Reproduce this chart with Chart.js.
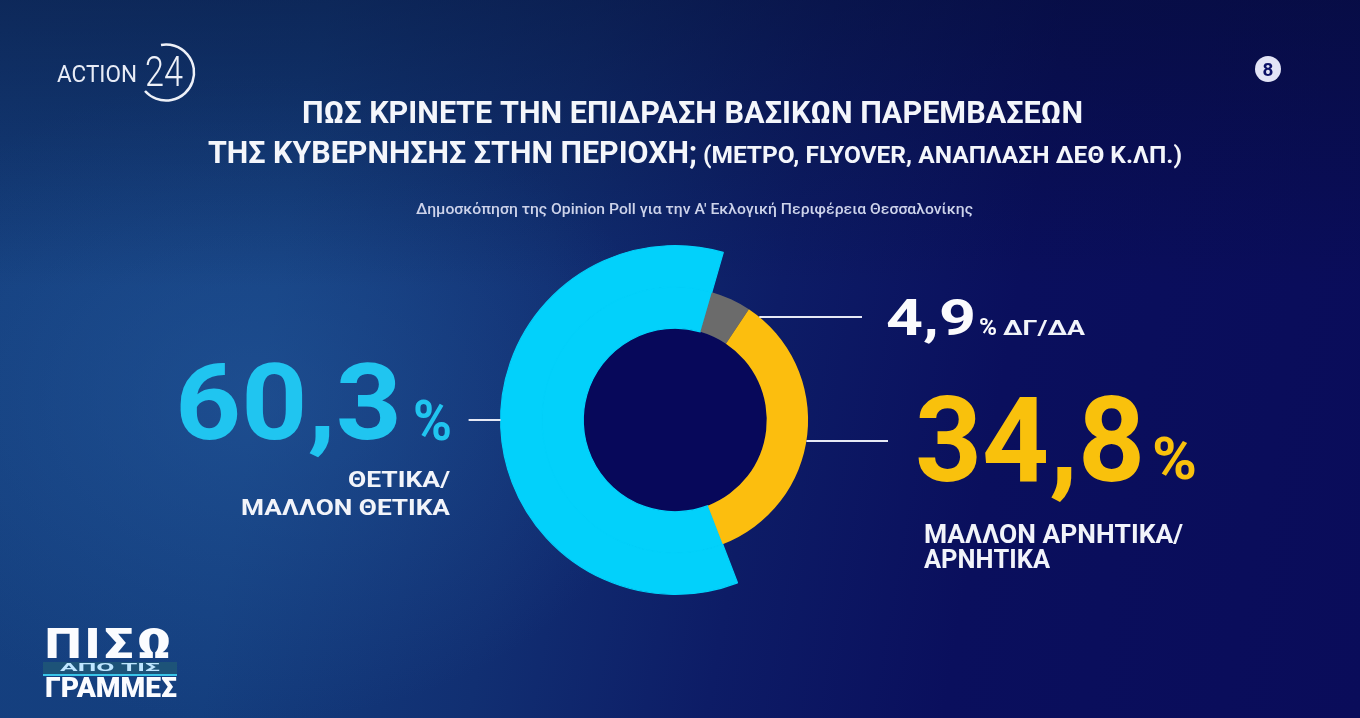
<!DOCTYPE html>
<html>
<head>
<meta charset="utf-8">
<script src="https://cdn.jsdelivr.net/npm/chart.js@4.4.1/dist/chart.umd.min.js"></script>
<style>
  html, body { margin:0; padding:0; width:1360px; height:718px; overflow:hidden; }
  body {
    position:relative;
    background:
      linear-gradient(180deg, rgba(4,12,45,0.45) 0%, rgba(4,12,45,0) 40%),
      radial-gradient(ellipse 560px 430px at 250px 400px, rgba(38,92,160,0.5), rgba(38,92,160,0) 75%),
      linear-gradient(100deg, #15407f 0%, #143e7e 22%, #112f72 40%, #0d1c66 56%, #0a0f5d 72%, #0a0c5a 100%);
    font-family: "Roboto", sans-serif;
    color:#fff;
  }
  #wrap { position:absolute; left:0; top:0; width:1360px; height:718px; }
  .t { position:absolute; white-space:nowrap; line-height:1; font-family:"Roboto",sans-serif; transform-origin:0 0; }
  .b { font-weight:700; }
</style>
</head>
<body>
<div id="wrap"><canvas id="c" width="1360" height="718"></canvas></div>

<!-- titles -->
<div class="t b fit" data-w="781" style="left:302px;top:97px;font-size:31px;color:#f4f6fb;">ΠΩΣ ΚΡΙΝΕΤΕ ΤΗΝ ΕΠΙΔΡΑΣΗ ΒΑΣΙΚΩΝ ΠΑΡΕΜΒΑΣΕΩΝ</div>
<div class="t b fit" data-w="489" style="left:208px;top:137px;font-size:31px;color:#f4f6fb;">ΤΗΣ ΚΥΒΕΡΝΗΣΗΣ ΣΤΗΝ ΠΕΡΙΟΧΗ;</div>
<div class="t b fit" data-w="479" style="left:703px;top:143px;font-size:24px;color:#f4f6fb;">(ΜΕΤΡΟ, FLYOVER, ΑΝΑΠΛΑΣΗ ΔΕΘ Κ.ΛΠ.)</div>
<div class="t fit" data-w="557" style="left:416px;top:202px;font-size:14px;font-weight:500;color:#cdd3ea;">Δημοσκόπηση της Opinion Poll για την Α' Εκλογική Περιφέρεια Θεσσαλονίκης</div>

<!-- positive -->
<div class="t b fit" data-w="227" style="left:175px;top:351px;font-size:105px;color:#20c5f0;">60,3</div>
<div class="t b fit" data-w="39" style="left:413px;top:393px;font-size:56px;color:#20c5f0;">%</div>
<div class="t b fit" data-w="102" style="left:348px;top:468px;font-size:22.5px;color:#f2f4fa;">ΘΕΤΙΚΑ/</div>
<div class="t b fit" data-w="209" style="left:241px;top:496px;font-size:22.5px;color:#f2f4fa;">ΜΑΛΛΟΝ ΘΕΤΙΚΑ</div>

<!-- DK/NA -->
<div class="t b fit" data-w="90" style="left:886px;top:293px;font-size:50px;color:#fbfbfd;">4,9</div>
<div class="t b fit" data-w="18" style="left:979px;top:316px;font-size:23px;color:#fbfbfd;">%</div>
<div class="t b fit" data-w="82" style="left:1003px;top:318px;font-size:20px;color:#f2f4fa;">ΔΓ/ΔΑ</div>

<!-- negative -->
<div class="t b fit" data-w="230" style="left:915px;top:382px;font-size:118px;color:#f9c10c;">34,8</div>
<div class="t b fit" data-w="45" style="left:1152px;top:429px;font-size:60px;color:#f9c10c;">%</div>
<div class="t b fit" data-w="259" style="left:924px;top:522px;font-size:25px;color:#f2f4fa;">ΜΑΛΛΟΝ ΑΡΝΗΤΙΚΑ/</div>
<div class="t b fit" data-w="126" style="left:924px;top:547px;font-size:25px;color:#f2f4fa;">ΑΡΝΗΤΙΚΑ</div>

<!-- channel / show logos -->
<div class="t fit" data-w="80" style="left:57px;top:62px;font-size:24px;font-weight:400;color:#e8ecf6;">ACTION</div>
<div class="t fit" data-w="38" style="left:145px;top:51px;font-size:42px;font-weight:300;color:#eef1f8;">24</div>
<svg class="t" style="left:0;top:0;" width="220" height="130"><path d="M 161 45 A 28 28 0 1 1 145 91" fill="none" stroke="#eef1f8" stroke-width="2.5"/></svg>
<div class="t" style="left:1255px;top:56px;width:26px;height:26px;border-radius:50%;background:#e2e4f6;"></div>
<div class="t b" style="left:1255px;top:60px;width:26px;text-align:center;font-size:19px;color:#0b1066;">8</div>

<div class="t fit" data-w="130" style="left:45px;top:622px;font-size:43px;font-weight:900;color:#fbfcff;letter-spacing:3px;">ΠΙΣΩ</div>
<div class="t" style="left:43px;top:662px;width:134px;height:12px;background:#1d5378;border-bottom:2px solid #39c4e8;"></div>
<div class="t b fit" data-w="100" style="left:60px;top:663px;font-size:10px;color:#bfe6ff;">ΑΠΟ ΤΙΣ</div>
<div class="t fit" data-w="132" style="left:45px;top:675px;font-size:27px;font-weight:900;color:#fbfcff;">ΓΡΑΜΜΕΣ</div>

<script>
const categories = ['ΘΕΤΙΚΑ/ΜΑΛΛΟΝ ΘΕΤΙΚΑ', 'ΔΓ/ΔΑ', 'ΜΑΛΛΟΝ ΑΡΝΗΤΙΚΑ/ΑΡΝΗΤΙΚΑ'];
const values = [60.3, 4.9, 34.8];
const colors = ['#02d1fb', '#6b6b6b', '#fcbe0e'];
const outerColors = ['#02d1fb', 'rgba(0,0,0,0)', 'rgba(0,0,0,0)'];

function fitTexts() {
  document.querySelectorAll('.fit').forEach(el => {
    el.style.transform = 'none';
    const w = el.getBoundingClientRect().width;
    const target = parseFloat(el.dataset.w);
    if (w > 0) el.style.transform = 'scaleX(' + (target / w) + ')';
  });
}
fitTexts();
if (document.fonts && document.fonts.ready) document.fonts.ready.then(fitTexts);

const decor = {
  id: 'decor',
  beforeDatasetsDraw(chart) {
    const arc = chart.getDatasetMeta(1).data[0];
    const ctx = chart.ctx;
    ctx.save();
    ctx.fillStyle = '#07085a';
    ctx.beginPath();
    ctx.arc(arc.x, arc.y, arc.innerRadius, 0, Math.PI * 2);
    ctx.fill();
    ctx.restore();
  },
  afterDatasetsDraw(chart) {
    const inner = chart.getDatasetMeta(1).data[0];
    const outer = chart.getDatasetMeta(0).data[0];
    const cx = inner.x, cy = inner.y;
    const rMid = inner.outerRadius, rOut = outer.outerRadius;
    const ctx = chart.ctx;
    ctx.save();
    ctx.strokeStyle = '#e6e9f5';
    ctx.lineWidth = 2;
    ctx.beginPath();
    ctx.moveTo(cx - rOut - 32, cy);
    ctx.lineTo(cx - rOut, cy);
    ctx.stroke();
    let dy = -103;
    ctx.beginPath();
    ctx.moveTo(cx + Math.sqrt(rMid * rMid - dy * dy), cy + dy);
    ctx.lineTo(cx + 187, cy + dy);
    ctx.stroke();
    dy = 21;
    ctx.beginPath();
    ctx.moveTo(cx + Math.sqrt(rMid * rMid - dy * dy), cy + dy);
    ctx.lineTo(cx + 213, cy + dy);
    ctx.stroke();
    ctx.restore();
  }
};

new Chart(document.getElementById('c'), {
  type: 'doughnut',
  data: {
    labels: categories,
    datasets: [
      { data: values, backgroundColor: outerColors, borderColor: outerColors, borderWidth: [1.2, 0, 0], weight: 1 },
      { data: values, backgroundColor: colors, borderColor: colors, borderWidth: [1.2, 0, 0], weight: 1 }
    ]
  },
  options: {
    responsive: false,
    animation: false,
    rotation: 159,
    cutout: '52.6%',
    layout: { padding: { left: 500, right: 510, top: 245, bottom: 123 } },
    events: [],
    plugins: { legend: { display: false }, tooltip: { enabled: false } }
  },
  plugins: [decor]
});
</script>
</body>
</html>
